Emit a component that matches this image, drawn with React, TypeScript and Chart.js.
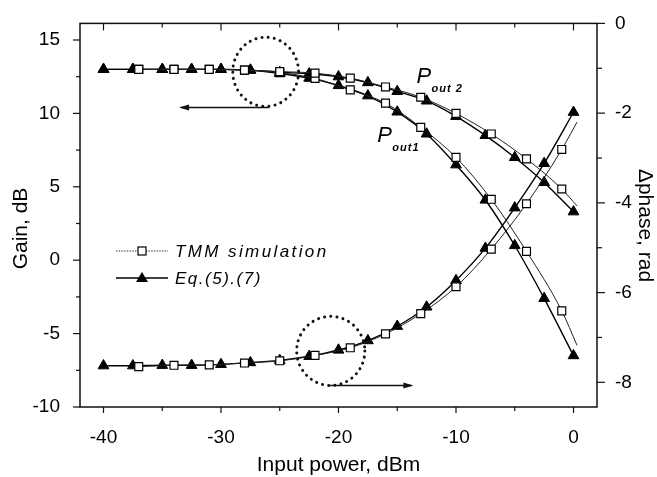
import React, { useEffect, useRef } from 'react';
import { Chart, registerables } from 'chart.js';

Chart.register(...registerables);

// ---------- data ----------
// Eq.(5),(7) : triangles every 2.5 dBm
const xEq = [-40, -37.5, -35, -32.5, -30, -27.5, -25, -22.5, -20, -17.5, -15, -12.5, -10, -7.5, -5, -2.5, 0];
const gain1Eq = [13.0, 13.0, 13.0, 13.0, 13.0, 12.95, 12.72, 12.4, 11.9, 11.2, 10.1, 8.6, 6.5, 4.1, 1.0, -2.6, -6.5];
const gain2Eq = [13.0, 13.0, 13.0, 13.0, 13.0, 12.95, 12.8, 12.7, 12.5, 12.1, 11.5, 10.85, 9.8, 8.5, 7.0, 5.3, 3.3];
const phaseEq = [-7.63, -7.63, -7.62, -7.62, -7.6, -7.56, -7.51, -7.42, -7.28, -7.07, -6.75, -6.32, -5.73, -5.01, -4.11, -3.12, -1.98];

// TMM simulation : squares every 3 dBm (last point = end of curve, no marker)
const xTmm = [-37, -34, -31, -28, -25, -22, -19, -16, -13, -10, -7, -4, -1, 0.3];
const gain1Tmm = [13.0, 13.0, 13.0, 12.95, 12.78, 12.38, 11.6, 10.7, 9.05, 7.0, 4.15, 0.6, -3.45, -5.8];
const gain2Tmm = [13.0, 13.0, 13.0, 12.95, 12.85, 12.74, 12.4, 11.8, 11.1, 10.0, 8.6, 6.9, 4.85, 3.7];
const phaseTmm = [-7.65, -7.62, -7.61, -7.57, -7.52, -7.4, -7.23, -6.92, -6.47, -5.87, -5.03, -4.02, -2.81, -2.2];

// axis ranges / labels
const xRange = [-42, 2];
const gainRange = [-10, 16.13];
const phaseRange = [-8.55, 0];
const xTitle = 'Input power, dBm';
const yTitle = 'Gain, dB';
const y2Title = 'Δphase, rad';
const legendLabels = ['TMM simulation', 'Eq.(5).(7)'];

const FONT = "'Liberation Sans', Arial, Helvetica, sans-serif";

const pts = (xs: number[], ys: number[]) => xs.map((x, i) => ({ x, y: ys[i] }));

function line(ctx: CanvasRenderingContext2D, x1: number, y1: number, x2: number, y2: number) {
  ctx.beginPath();
  ctx.moveTo(x1, y1);
  ctx.lineTo(x2, y2);
  ctx.stroke();
}

const decor = {
  id: 'decor',
  afterDraw(chart: any) {
    const { ctx, chartArea: a, scales } = chart;
    const sx = scales.x, sy = scales.y, sy2 = scales.y2;
    ctx.save();
    ctx.strokeStyle = '#111';
    ctx.fillStyle = '#111';
    ctx.lineWidth = 1.5;
    ctx.setLineDash([]);
    ctx.strokeRect(a.left, a.top, a.right - a.left, a.bottom - a.top);

    // x ticks: bottom outward, top inward
    ctx.lineWidth = 1.2;
    sx.ticks.forEach((t: any) => {
      const v = t.value;
      if (Math.abs(v % 5) > 1e-6) return;
      const major = Math.abs(v % 10) < 1e-6;
      const px = sx.getPixelForValue(v);
      line(ctx, px, a.bottom, px, a.bottom + (major ? 6 : 4));
      line(ctx, px, a.top, px, a.top + (major ? 7 : 4));
    });
    // left ticks outward
    sy.ticks.forEach((t: any) => {
      const v = t.value;
      const major = Math.abs(v % 5) < 1e-6;
      const py = sy.getPixelForValue(v);
      line(ctx, a.left, py, a.left - (major ? 7 : 4), py);
    });
    // right ticks outward
    sy2.ticks.forEach((t: any) => {
      const v = t.value;
      const major = Math.abs(v % 2) < 1e-6;
      const py = sy2.getPixelForValue(v);
      line(ctx, a.right, py, a.right + (major ? 8 : 5), py);
    });

    // dotted circles + arrows (data coordinates)
    const ellipse = (scaleY: any, cx: number, cy: number, rx: number, ry: number) => {
      const px = sx.getPixelForValue(cx);
      const py = scaleY.getPixelForValue(cy);
      const prx = Math.abs(sx.getPixelForValue(cx + rx) - px);
      const pry = Math.abs(scaleY.getPixelForValue(cy + ry) - py);
      ctx.save();
      ctx.lineWidth = 3;
      ctx.lineCap = 'round';
      ctx.setLineDash([0.01, 6.2]);
      ctx.beginPath();
      ctx.ellipse(px, py, prx, pry, 0, 0, Math.PI * 2);
      ctx.stroke();
      ctx.restore();
    };
    const arrow = (scaleY: any, x1: number, x2: number, yv: number) => {
      const p1 = sx.getPixelForValue(x1);
      const p2 = sx.getPixelForValue(x2);
      const py = scaleY.getPixelForValue(yv);
      ctx.save();
      ctx.lineWidth = 1.5;
      line(ctx, p1, py, p2, py);
      const dir = Math.sign(p2 - p1);
      ctx.beginPath();
      ctx.moveTo(p2 + dir * 2, py);
      ctx.lineTo(p2 - dir * 8, py - 3);
      ctx.lineTo(p2 - dir * 8, py + 3);
      ctx.closePath();
      ctx.fill();
      ctx.restore();
    };
    ellipse(sy, -26.2, 12.83, 2.8, 2.36);
    arrow(sy, -25.9, -33.4, 10.4);
    ellipse(sy2, -20.66, -7.3, 2.9, 0.77);
    arrow(sy2, -20.8, -13.8, -8.07);

    // P_out labels
    const pLabel = (xv: number, yv: number, sub: string) => {
      const px = sx.getPixelForValue(xv);
      const py = sy.getPixelForValue(yv);
      ctx.save();
      ctx.fillStyle = '#000';
      ctx.textAlign = 'left';
      ctx.textBaseline = 'alphabetic';
      ctx.font = `italic 22px ${FONT}`;
      ctx.fillText('P', px, py);
      ctx.font = `italic bold 11px ${FONT}`;
      (ctx as any).letterSpacing = '1px';
      ctx.fillText(sub, px + 15, py + 9);
      ctx.restore();
    };
    pLabel(-13.36, 12.09, 'out 2');
    pLabel(-16.7, 8.03, 'out1');

    // legend
    ctx.save();
    ctx.fillStyle = '#000';
    ctx.strokeStyle = '#333';
    ctx.lineWidth = 1;
    ctx.setLineDash([1.5, 1.2]);
    line(ctx, 116, 251, 168, 251);
    ctx.setLineDash([]);
    ctx.fillStyle = '#fff';
    ctx.strokeStyle = '#000';
    ctx.lineWidth = 1.2;
    ctx.fillRect(138, 247, 8, 8);
    ctx.strokeRect(138, 247, 8, 8);
    ctx.lineWidth = 1.6;
    line(ctx, 116, 278, 168, 278);
    ctx.fillStyle = '#000';
    ctx.beginPath();
    ctx.moveTo(142, 272);
    ctx.lineTo(148, 282);
    ctx.lineTo(136, 282);
    ctx.closePath();
    ctx.fill();
    ctx.font = `italic 17px ${FONT}`;
    (ctx as any).letterSpacing = '2.4px';
    ctx.textBaseline = 'alphabetic';
    ctx.textAlign = 'left';
    ctx.fillText(legendLabels[0], 175, 257);
    (ctx as any).letterSpacing = '1.5px';
    ctx.fillText(legendLabels[1], 175, 284);
    ctx.restore();

    // axis titles
    ctx.save();
    ctx.fillStyle = '#000';
    ctx.font = `21px ${FONT}`;
    ctx.textAlign = 'center';
    ctx.textBaseline = 'alphabetic';
    ctx.fillText(xTitle, (a.left + a.right) / 2, 471);
    ctx.save();
    ctx.translate(27, 228.5);
    ctx.rotate(-Math.PI / 2);
    ctx.fillText(yTitle, 0, 0);
    ctx.restore();
    ctx.save();
    ctx.translate(639, 225.5);
    ctx.rotate(Math.PI / 2);
    ctx.fillText(y2Title, 0, 0);
    ctx.restore();
    ctx.restore();

    ctx.restore();
  },
};

export default function App() {
  const ref = useRef<HTMLCanvasElement>(null);
  useEffect(() => {
    const canvas = ref.current!;
    const tmmStyle = {
      type: 'line' as const,
      borderColor: '#222',
      borderWidth: 1,
      pointStyle: 'rect' as const,
      pointRadius: xTmm.map((_, i) => (i === xTmm.length - 1 ? 0 : 5.6)),
      pointBackgroundColor: '#fff',
      pointBorderColor: '#000',
      pointBorderWidth: 1.2,
      cubicInterpolationMode: 'monotone' as const,
      fill: false,
    };
    const eqStyle = {
      type: 'line' as const,
      borderColor: '#000',
      borderWidth: 1.4,
      pointStyle: 'triangle' as const,
      pointRadius: 6.2,
      pointBackgroundColor: '#000',
      pointBorderColor: '#000',
      pointBorderWidth: 1,
      cubicInterpolationMode: 'monotone' as const,
      fill: false,
    };
    const tickFont = { family: FONT, size: 19 };
    const chart = new Chart(canvas, {
      type: 'line',
      data: {
        datasets: [
          { ...tmmStyle, label: 'TMM Pout2', data: pts(xTmm, gain2Tmm), yAxisID: 'y' },
          { ...tmmStyle, label: 'TMM Pout1', data: pts(xTmm, gain1Tmm), yAxisID: 'y' },
          { ...tmmStyle, label: 'TMM phase', data: pts(xTmm, phaseTmm), yAxisID: 'y2' },
          { ...eqStyle, label: 'Eq Pout2', data: pts(xEq, gain2Eq), yAxisID: 'y' },
          { ...eqStyle, label: 'Eq Pout1', data: pts(xEq, gain1Eq), yAxisID: 'y' },
          { ...eqStyle, label: 'Eq phase', data: pts(xEq, phaseEq), yAxisID: 'y2' },
        ] as any,
      },
      options: {
        responsive: false,
        animation: false,
        devicePixelRatio: 1,
        layout: { padding: { top: 20, left: 0, right: 0, bottom: 0 } },
        plugins: { legend: { display: false }, tooltip: { enabled: false } },
        scales: {
          x: {
            type: 'linear',
            position: 'bottom',
            min: xRange[0],
            max: xRange[1],
            grid: { display: false },
            border: { display: false },
            ticks: {
              stepSize: 5,
              includeBounds: false,
              autoSkip: false,
              maxRotation: 0,
              padding: 11,
              color: '#000',
              font: tickFont,
              callback: (v: any) => (Math.abs(v % 10) < 1e-6 ? String(v) : ''),
            },
            afterFit: (s: any) => { s.height = 70; },
          },
          y: {
            type: 'linear',
            position: 'left',
            min: gainRange[0],
            max: gainRange[1],
            grid: { display: false },
            border: { display: false },
            ticks: {
              stepSize: 2.5,
              includeBounds: false,
              autoSkip: false,
              padding: 12,
              color: '#000',
              font: tickFont,
              callback: (v: any) => (Math.abs(v % 5) < 1e-6 ? String(v) : ''),
            },
            afterFit: (s: any) => { s.width = 80; },
          },
          y2: {
            type: 'linear',
            position: 'right',
            min: phaseRange[0],
            max: phaseRange[1],
            grid: { display: false },
            border: { display: false },
            ticks: {
              stepSize: 1,
              includeBounds: false,
              autoSkip: false,
              padding: 10,
              color: '#000',
              font: tickFont,
              callback: (v: any) => (Math.abs(v % 2) < 1e-6 ? String(v) : ''),
            },
            afterFit: (s: any) => { s.width = 60; },
          },
        },
      } as any,
      plugins: [decor],
    });
    return () => chart.destroy();
  }, []);
  return (
    <div style={{ position: 'absolute', left: 0, top: 0, width: 657, height: 477, background: '#fff' }}>
      <canvas ref={ref} width={657} height={477} style={{ width: 657, height: 477, display: 'block' }} />
    </div>
  );
}
